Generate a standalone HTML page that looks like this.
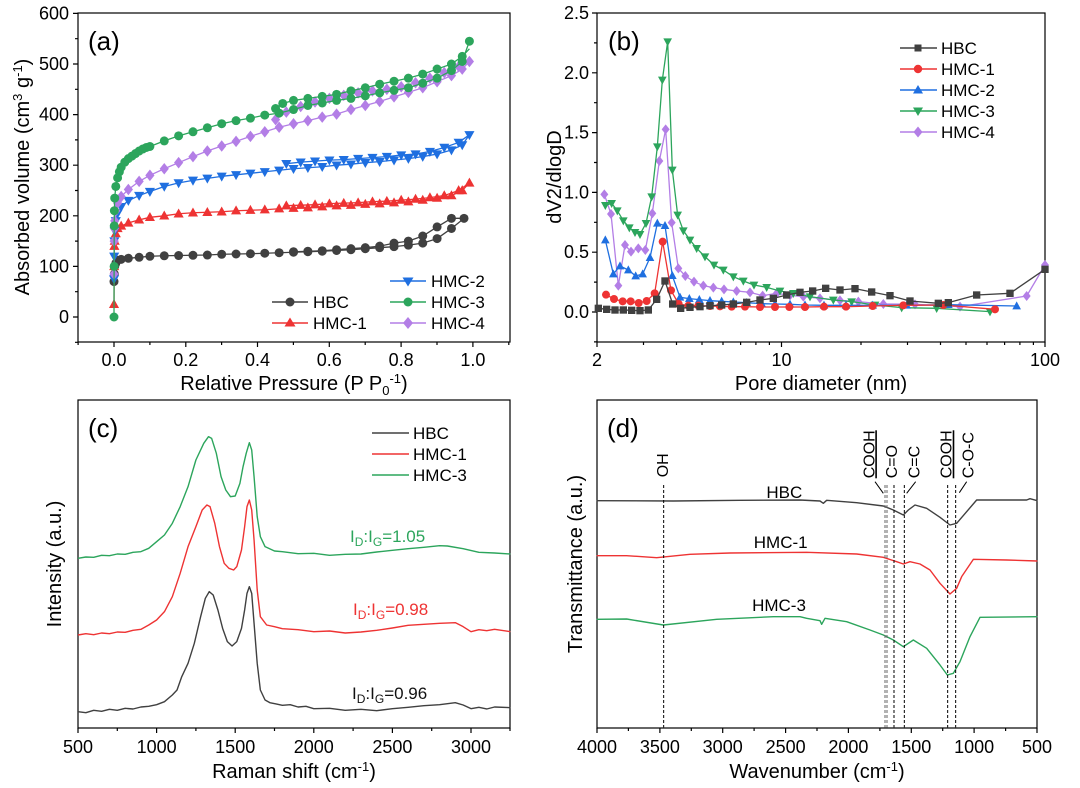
<!DOCTYPE html>
<html><head><meta charset="utf-8"><style>
html,body{margin:0;padding:0;background:#fff}
svg{display:block;font-family:"Liberation Sans",Arial,sans-serif}
.ns{vector-effect:non-scaling-stroke;fill:none;stroke-linejoin:round}
</style></head><body>
<svg width="1080" height="788" viewBox="0 0 1080 788" xmlns="http://www.w3.org/2000/svg">
<defs>
<marker id="aok" markerUnits="userSpaceOnUse" style="overflow:visible" markerWidth="1" markerHeight="1"><ellipse rx="0.0125" ry="8.9" fill="#404040"/></marker>
<marker id="aog" markerUnits="userSpaceOnUse" style="overflow:visible" markerWidth="1" markerHeight="1"><ellipse rx="0.0125" ry="8.9" fill="#2ca55c"/></marker>
<marker id="aur" markerUnits="userSpaceOnUse" style="overflow:visible" markerWidth="1" markerHeight="1"><polygon points="0,10.5 0.0141,-7.3 -0.0141,-7.3" fill="#ee3333"/></marker>
<marker id="adb" markerUnits="userSpaceOnUse" style="overflow:visible" markerWidth="1" markerHeight="1"><polygon points="0,-10.5 0.0141,7.3 -0.0141,7.3" fill="#1f6fe0"/></marker>
<marker id="adp" markerUnits="userSpaceOnUse" style="overflow:visible" markerWidth="1" markerHeight="1"><polygon points="0,11.4 0.0128,0 0,-11.4 -0.0128,0" fill="#b37ee6"/></marker>
<marker id="bsk" markerUnits="userSpaceOnUse" style="overflow:visible" markerWidth="1" markerHeight="1"><rect x="-11" y="-11" width="22" height="22" fill="#404040"/></marker>
<marker id="bor" markerUnits="userSpaceOnUse" style="overflow:visible" markerWidth="1" markerHeight="1"><circle r="12" fill="#ee3333"/></marker>
<marker id="bub" markerUnits="userSpaceOnUse" style="overflow:visible" markerWidth="1" markerHeight="1"><polygon points="0,-14 13,10 -13,10" fill="#1f6fe0"/></marker>
<marker id="bdg" markerUnits="userSpaceOnUse" style="overflow:visible" markerWidth="1" markerHeight="1"><polygon points="0,14 13,-10 -13,-10" fill="#2ca55c"/></marker>
<marker id="bdp" markerUnits="userSpaceOnUse" style="overflow:visible" markerWidth="1" markerHeight="1"><polygon points="0,-15 12,0 0,15 -12,0" fill="#b37ee6"/></marker>
</defs>

<!-- ================= Panel (a) ================= -->
<rect x="78" y="13" width="432" height="329" fill="none" stroke="#000" stroke-width="1.2"/>
<path d="M78.1,342v3 M114,342v5 M149.9,342v3 M185.8,342v5 M221.6,342v3 M257.5,342v5 M293.4,342v3 M329.3,342v5 M365.2,342v3 M401.1,342v5 M437,342v3 M472.9,342v5 M508.8,342v3
M78,342.3h-3 M78,317h-5 M78,291.7h-3 M78,266.4h-5 M78,241.1h-3 M78,215.8h-5 M78,190.5h-3 M78,165.2h-5 M78,139.9h-3 M78,114.6h-5 M78,89.3h-3 M78,64h-5 M78,38.7h-3 M78,13.4h-5" stroke="#000" stroke-width="1.2" fill="none"/>
<g font-size="18" text-anchor="middle">
<text x="114" y="366">0.0</text><text x="185.8" y="366">0.2</text><text x="257.5" y="366">0.4</text><text x="329.3" y="366">0.6</text><text x="401.1" y="366">0.8</text><text x="472.9" y="366">1.0</text>
</g>
<g font-size="18" text-anchor="end">
<text x="69" y="323">0</text><text x="69" y="272.4">100</text><text x="69" y="221.8">200</text><text x="69" y="171.2">300</text><text x="69" y="120.6">400</text><text x="69" y="70">500</text><text x="69" y="19.4">600</text>
</g>
<text x="294" y="390" font-size="20" text-anchor="middle">Relative Pressure (P P<tspan font-size="13" dy="5">0</tspan><tspan font-size="13" dy="-12">-1</tspan><tspan dy="7">)</tspan></text>
<text transform="translate(29,177) rotate(-90)" font-size="20" text-anchor="middle">Absorbed volume (cm<tspan font-size="13" dy="-7">3</tspan><tspan dy="7"> g</tspan><tspan font-size="13" dy="-7">-1</tspan><tspan dy="7">)</tspan></text>
<text x="88" y="50" font-size="26">(a)</text>
<g transform="translate(114,317) scale(359,-0.506)">
<polyline class="ns" stroke-width="1.3" stroke="#404040" marker-start="url(#aok)" marker-mid="url(#aok)" marker-end="url(#aok)" points="0,70 0.001,85 0.002,100 0.005,106 0.01,112 0.02,114 0.04,116 0.07,118 0.1,120 .14,121 .18,121.5 .22,122 .26,122.5 .3,124 .34,124.5 .38,125 .42,126 .46,127 .5,128 .54,129 .58,130 .62,131.5 .66,133 .7,135 .74,137 .78,139 .82,142 .86,146 .9,155 .94,175 .975,195"/>
<polyline class="ns" stroke-width="1.3" stroke="#404040" marker-mid="url(#aok)" marker-end="url(#aok)" points=".975,195 .94,195 .9,178 .86,160 .82,150 .78,146 .74,140 .70,137 .66,135 .62,133 .58,131 .54,130 .5,129"/>
<polyline class="ns" stroke-width="1.3" stroke="#ee3333" marker-start="url(#aur)" marker-mid="url(#aur)" marker-end="url(#aur)" points="0,25 0.0005,100 0.001,140 0.002,150 0.005,165 0.01,175 0.02,180 0.04,186 0.07,192 0.1,197 .14,200 .18,204 .22,206 .26,207 .3,208 .34,210 .38,211 .42,212 .46,214 .5,215 .54,216 .58,218 .62,220 .66,221 .7,223 .74,224 .78,226 .82,228 .86,231 .9,235 .94,240 .97,250 .99,265"/>
<polyline class="ns" stroke-width="1.3" stroke="#ee3333" marker-mid="url(#aur)" marker-end="url(#aur)" points=".99,265 .96,250 .92,240 .88,236 .84,233 .8,231 .76,229 .72,228 .68,226 .64,225 .6,224 .56,222 .52,221 .48,220"/>
<polyline class="ns" stroke-width="1.3" stroke="#1f6fe0" marker-start="url(#adb)" marker-mid="url(#adb)" marker-end="url(#adb)" points="0,75 0.0005,120 0.001,150 0.002,170 0.005,190 0.01,205 0.02,218 0.04,230 0.07,240 0.1,248 .14,258 .18,265 .22,270 .26,274 .3,278 .34,281 .38,284 .42,287 .46,290 .5,293 .54,295 .58,297 .62,300 .66,302 .7,305 .74,307 .78,310 .82,313 .86,317 .9,322 .94,330 .97,340 .99,360"/>
<polyline class="ns" stroke-width="1.3" stroke="#1f6fe0" marker-mid="url(#adb)" marker-end="url(#adb)" points=".99,360 .96,345 .92,335 .88,327 .84,322 .8,320 .76,317 .72,315 .68,313 .64,311 .6,310 .56,308 .52,306 .48,303"/>
<polyline class="ns" stroke-width="1.3" stroke="#b37ee6" marker-start="url(#adp)" marker-mid="url(#adp)" marker-end="url(#adp)" points="0,85 .0005,150 .001,175 .002,190 .005,210 .01,225 .02,238 .04,252 .07,268 .1,280 .14,293 .18,305 .22,317 .26,328 .3,338 .34,347 .38,357 .42,366 .46,375 .5,382 .54,388 .58,395 .62,401 .66,410 .7,418 .74,426 .78,435 .82,444 .86,453 .9,465 .94,477 .97,490 .99,505"/>
<polyline class="ns" stroke-width="1.3" stroke="#b37ee6" marker-mid="url(#adp)" marker-end="url(#adp)" points=".99,505 .96,495 .92,483 .88,472 .84,463 .8,455 .76,450 .72,447 .68,443 .64,438 .6,432 .56,425 .52,416 .48,405 .45,390"/>
<polyline class="ns" stroke-width="1.3" stroke="#2ca55c" marker-start="url(#aog)" marker-mid="url(#aog)" marker-end="url(#aog)" points="0,0 0.0003,100 .0006,180 .001,210 .002,235 .005,258 .01,275 .015,287 .02,296 .03,306 .04,313 .05,318 .06,323 .07,328 .08,332 .09,335 .1,337 .14,348 .18,358 .22,366 .26,374 .3,382 .34,388 .38,393 .42,399 .46,403 .5,410 .54,418 .58,423 .62,428 .66,432 .7,437 .74,443 .78,448 .82,453 .86,462 .9,472 .94,487 .97,505 .99,545"/>
<polyline class="ns" stroke-width="1.3" stroke="#2ca55c" marker-mid="url(#aog)" marker-end="url(#aog)" points=".99,530 .97,515 .94,500 .9,490 .86,480 .82,472 .78,466 .74,460 .7,453 .66,447 .62,440 .58,436 .54,432 .5,428 .47,422 .45,412"/>
</g>
<g stroke-width="1.5">
<line x1="272" y1="302" x2="308" y2="302" stroke="#404040"/><circle cx="290" cy="302" r="4.5" fill="#404040"/>
<line x1="272" y1="323" x2="308" y2="323" stroke="#ee3333"/><polygon points="290,317.5 295.5,326.5 284.5,326.5" fill="#ee3333"/>
<line x1="390" y1="281" x2="426" y2="281" stroke="#1f6fe0"/><polygon points="408,286.5 413.5,277.5 402.5,277.5" fill="#1f6fe0"/>
<line x1="390" y1="302" x2="426" y2="302" stroke="#2ca55c"/><circle cx="408" cy="302" r="4.5" fill="#2ca55c"/>
<line x1="390" y1="323" x2="426" y2="323" stroke="#b37ee6"/><polygon points="408,317 413,323 408,329 403,323" fill="#b37ee6"/>
</g>
<g font-size="17"><text x="313" y="308">HBC</text><text x="313" y="329">HMC-1</text><text x="431" y="287">HMC-2</text><text x="431" y="308">HMC-3</text><text x="431" y="329">HMC-4</text></g>

<!-- ================= Panel (b) ================= -->
<rect x="597" y="13" width="448" height="329" fill="none" stroke="#000" stroke-width="1.2"/>
<path d="M597,342v5 M643.5,342v3 M676.5,342v3 M702,342v3 M723,342v3 M740.6,342v3 M755.9,342v3 M769.4,342v3 M781.5,342v5 M861,342v3 M907.5,342v3 M940.5,342v3 M966,342v3 M987,342v3 M1004.6,342v3 M1019.9,342v3 M1033.4,342v3 M1045,342v5
M597,341.9h-3 M597,312h-5 M597,282.1h-3 M597,252.2h-5 M597,222.3h-3 M597,192.4h-5 M597,162.5h-3 M597,132.6h-5 M597,102.7h-3 M597,72.8h-5 M597,42.9h-3 M597,13h-5" stroke="#000" stroke-width="1.2" fill="none"/>
<g font-size="18" text-anchor="middle"><text x="597" y="366">2</text><text x="781.5" y="366">10</text><text x="1045" y="366">100</text></g>
<g font-size="18" text-anchor="end">
<text x="589" y="318">0.0</text><text x="589" y="258.2">0.5</text><text x="589" y="198.4">1.0</text><text x="589" y="138.6">1.5</text><text x="589" y="78.8">2.0</text><text x="589" y="19">2.5</text>
</g>
<text x="821" y="390" font-size="20" text-anchor="middle">Pore diameter (nm)</text>
<text transform="translate(561,177) rotate(-90)" font-size="20" text-anchor="middle">dV2/dlogD</text>
<text x="608" y="50" font-size="26">(b)</text>
<g transform="translate(540,0) scale(0.33333)" stroke-width="1.3">
<polyline class="ns" stroke="#b37ee6" marker-start="url(#bdp)" marker-mid="url(#bdp)" marker-end="url(#bdp)" points="193,583 213,642 235,857 255,735 273,755 295,745 316,750 337,640 358,483 377,388 395,668 415,805 436,828 462,845 490,857 520,863 552,868 590,873 630,877 668,887 710,880 750,886 790,890 840,895 900,901 955,905 1030,912 1125,913 1260,920 1460,888 1515,795"/>
<polyline class="ns" stroke="#2ca55c" marker-start="url(#bdg)" marker-mid="url(#bdg)" marker-end="url(#bdg)" points="196,616 215,610 232,632 250,662 268,683 285,697 300,703 318,670 335,590 352,440 367,240 383,125 397,510 413,645 430,692 450,720 470,745 495,770 522,795 550,810 580,830 610,843 642,855 680,862 720,873 760,880 810,890 880,900 935,905 1005,915 1085,923 1190,925 1350,935"/>
<polyline class="ns" stroke="#1f6fe0" marker-start="url(#bub)" marker-mid="url(#bub)" marker-end="url(#bub)" points="196,720 220,822 240,798 265,810 287,828 308,822 330,773 352,670 375,677 397,827 420,892 448,896 478,899 510,902 545,904 580,906 620,908 665,911 705,912 750,913 795,915 852,916 918,916 998,916 1100,916 1225,914 1430,918"/>
<polyline class="ns" stroke="#ee3333" marker-start="url(#bor)" marker-mid="url(#bor)" marker-end="url(#bor)" points="198,884 222,897 248,904 272,904 296,909 320,903 344,880 368,725 393,871 416,912 445,917 475,917 510,918 540,919 575,920 615,920 660,921 705,921 748,921 795,921 852,920 918,920 998,918 1090,916 1210,915 1365,928"/>
<polyline class="ns" stroke="#404040" marker-start="url(#bsk)" marker-mid="url(#bsk)" marker-end="url(#bsk)" points="175,925 200,928 225,930 250,930 275,931 300,932 325,930 350,898 375,843 398,912 422,925 450,922 480,920 510,917 545,915 580,912 620,907 660,900 700,895 740,885 780,877 818,873 857,865 900,870 945,866 995,876 1050,887 1110,903 1195,910 1225,908 1310,885 1410,880 1515,808"/>
</g>
<g stroke-width="1.5">
<line x1="900" y1="48" x2="937" y2="48" stroke="#404040"/><rect x="914.5" y="44.5" width="7" height="7" fill="#404040"/>
<line x1="900" y1="69" x2="937" y2="69" stroke="#ee3333"/><circle cx="918" cy="69" r="4.2" fill="#ee3333"/>
<line x1="900" y1="90" x2="937" y2="90" stroke="#1f6fe0"/><polygon points="918,85 923,93.5 913,93.5" fill="#1f6fe0"/>
<line x1="900" y1="111" x2="937" y2="111" stroke="#2ca55c"/><polygon points="918,116 923,107.5 913,107.5" fill="#2ca55c"/>
<line x1="900" y1="132" x2="937" y2="132" stroke="#b37ee6"/><polygon points="918,126.5 922.5,132 918,137.5 913.5,132" fill="#b37ee6"/>
</g>
<g font-size="17"><text x="941" y="54">HBC</text><text x="941" y="75">HMC-1</text><text x="941" y="96">HMC-2</text><text x="941" y="117">HMC-3</text><text x="941" y="138">HMC-4</text></g>

<!-- ================= Panel (c) ================= -->
<rect x="78" y="400" width="432" height="328" fill="none" stroke="#000" stroke-width="1.2"/>
<path d="M78,728v5 M117.3,728v3 M156.6,728v5 M195.9,728v3 M235.2,728v5 M274.5,728v3 M313.8,728v5 M353.1,728v3 M392.4,728v5 M431.7,728v3 M471,728v5 M510,728v3" stroke="#000" stroke-width="1.2" fill="none"/>
<g font-size="18" text-anchor="middle"><text x="78" y="753">500</text><text x="156.6" y="753">1000</text><text x="235.2" y="753">1500</text><text x="313.8" y="753">2000</text><text x="392.4" y="753">2500</text><text x="471" y="753">3000</text></g>
<text x="294" y="778" font-size="20" text-anchor="middle">Raman shift (cm<tspan font-size="13" dy="-7">-1</tspan><tspan dy="7">)</tspan></text>
<text transform="translate(61,564) rotate(-90)" font-size="20" text-anchor="middle">Intensity (a.u.)</text>
<text x="88" y="437" font-size="26">(c)</text>
<g transform="translate(-0.6,390) scale(0.1572,0.33333)">
<polyline class="ns" stroke="#404040" stroke-width="1.4" points="500,965 550,968 600,961 650,964 700,958 750,961 800,955 850,957 900,951 950,949 1000,944 1050,935 1100,915 1130,900 1160,860 1200,820 1240,760 1280,680 1310,625 1335,605 1360,615 1390,660 1420,715 1450,755 1480,768 1510,755 1540,715 1560,660 1575,610 1590,590 1605,610 1620,700 1640,820 1660,900 1690,930 1720,938 1760,942 1800,946 1850,944 1900,951 1950,949 2000,956 2100,955 2200,961 2300,958 2400,962 2500,956 2600,952 2700,947 2800,944 2900,938 2950,945 3000,956 3050,952 3100,957 3150,951 3250,953"/>
<polyline class="ns" stroke="#ee3333" stroke-width="1.4" points="500,735 550,731 600,734 650,729 700,731 750,726 800,727 850,721 900,718 950,705 1000,690 1050,665 1100,620 1150,550 1200,470 1250,410 1290,360 1320,345 1340,350 1370,400 1400,470 1430,520 1460,535 1490,540 1510,530 1540,480 1560,410 1575,350 1590,330 1605,360 1620,450 1640,600 1660,680 1700,705 1750,710 1800,716 1900,719 2000,725 2100,723 2200,729 2300,726 2400,721 2500,714 2600,706 2700,703 2800,700 2900,698 2950,710 3000,725 3050,719 3100,722 3150,718 3250,725"/>
<polyline class="ns" stroke="#2ca55c" stroke-width="1.4" points="500,505 550,501 600,502 650,496 700,497 750,492 800,493 850,487 900,485 950,475 1000,455 1050,435 1100,400 1150,350 1200,290 1250,210 1300,160 1330,140 1350,145 1380,190 1410,260 1440,300 1470,320 1500,318 1530,280 1550,230 1570,190 1590,158 1605,180 1620,260 1640,380 1660,440 1690,470 1750,483 1800,485 1900,491 2000,490 2100,496 2200,493 2300,492 2400,486 2500,481 2600,476 2700,472 2800,467 2850,468 2950,476 3050,487 3150,489 3250,492"/>
</g>
<text x="352" y="699" font-size="17" fill="#111">I<tspan font-size="12" dy="4">D</tspan><tspan dy="-4">:I</tspan><tspan font-size="12" dy="4">G</tspan><tspan dy="-4">=0.96</tspan></text>
<text x="353" y="615" font-size="17" fill="#ee3333">I<tspan font-size="12" dy="4">D</tspan><tspan dy="-4">:I</tspan><tspan font-size="12" dy="4">G</tspan><tspan dy="-4">=0.98</tspan></text>
<text x="350" y="542" font-size="17" fill="#2ca55c">I<tspan font-size="12" dy="4">D</tspan><tspan dy="-4">:I</tspan><tspan font-size="12" dy="4">G</tspan><tspan dy="-4">=1.05</tspan></text>
<g stroke-width="1.5"><line x1="372" y1="433" x2="409" y2="433" stroke="#404040"/><line x1="372" y1="454" x2="409" y2="454" stroke="#ee3333"/><line x1="372" y1="475" x2="409" y2="475" stroke="#2ca55c"/></g>
<g font-size="17"><text x="413" y="439">HBC</text><text x="413" y="460">HMC-1</text><text x="413" y="481">HMC-3</text></g>

<!-- ================= Panel (d) ================= -->
<rect x="597" y="400" width="440" height="328" fill="none" stroke="#000" stroke-width="1.2"/>
<path d="M597,728v5 M628.4,728v3 M659.9,728v5 M691.3,728v3 M722.7,728v5 M754.1,728v3 M785.6,728v5 M817,728v3 M848.4,728v5 M879.9,728v3 M911.3,728v5 M942.7,728v3 M974.1,728v5 M1005.6,728v3 M1037,728v5" stroke="#000" stroke-width="1.2" fill="none"/>
<g font-size="18" text-anchor="middle"><text x="597" y="753">4000</text><text x="659.9" y="753">3500</text><text x="722.7" y="753">3000</text><text x="785.6" y="753">2500</text><text x="848.4" y="753">2000</text><text x="911.3" y="753">1500</text><text x="974.1" y="753">1000</text><text x="1037" y="753">500</text></g>
<text x="817" y="778" font-size="20" text-anchor="middle">Wavenumber (cm<tspan font-size="13" dy="-7">-1</tspan><tspan dy="7">)</tspan></text>
<text transform="translate(582,564) rotate(-90)" font-size="20" text-anchor="middle">Transmittance (a.u.)</text>
<text x="607" y="437" font-size="26">(d)</text>
<g transform="translate(540,400) scale(0.33333)">
<polyline class="ns" stroke="#404040" stroke-width="1.4" points="170,302 400,303 600,301 780,300 840,303 850,310 860,301 950,308 1030,318 1060,330 1090,345 1105,330 1125,315 1160,325 1200,352 1230,375 1250,370 1310,300 1460,300 1470,296 1492,302"/>
<polyline class="ns" stroke="#ee3333" stroke-width="1.4" points="170,467 260,467 350,473 450,463 570,459 800,457 950,462 1030,472 1070,485 1090,492 1110,485 1140,492 1170,510 1200,550 1230,582 1250,565 1265,530 1300,478 1400,480 1492,483"/>
<polyline class="ns" stroke="#2ca55c" stroke-width="1.4" points="170,658 260,657 370,675 530,658 700,650 780,650 800,655 840,662 845,673 855,655 920,665 990,690 1030,705 1060,720 1090,740 1120,720 1160,745 1200,795 1222,825 1240,820 1260,785 1290,710 1320,652 1492,650"/>
<g stroke-width="1" stroke-dasharray="3,2" fill="none">
<path class="ns" stroke="#000" d="M371,255V982 M1062,255V982 M1093,255V982 M1223,255V982 M1247,255V982"/>
<path class="ns" stroke="#666" d="M1035,255V982 M1041,255V982"/>
</g>
<g stroke="#000" fill="none"><path class="ns" d="M1005,245L1030,280 M1127,245L1100,280 M1280,245L1258,278"/></g>
</g>
<g font-size="16">
<text transform="translate(668,477.3) rotate(-90)">OH</text>
<text transform="translate(874.3,478.3) rotate(-90)" text-decoration="underline">COOH</text>
<text transform="translate(897,478.3) rotate(-90)">C=O</text>
<text transform="translate(919.7,478.3) rotate(-90)">C=C</text>
<text transform="translate(951.7,478.3) rotate(-90)" text-decoration="underline">COOH</text>
<text transform="translate(973.3,478.3) rotate(-90)">C-O-C</text>
</g>
<g font-size="17" text-anchor="middle"><text x="784.3" y="498">HBC</text><text x="780.7" y="548">HMC-1</text><text x="779" y="611">HMC-3</text></g>
</svg>
</body></html>
